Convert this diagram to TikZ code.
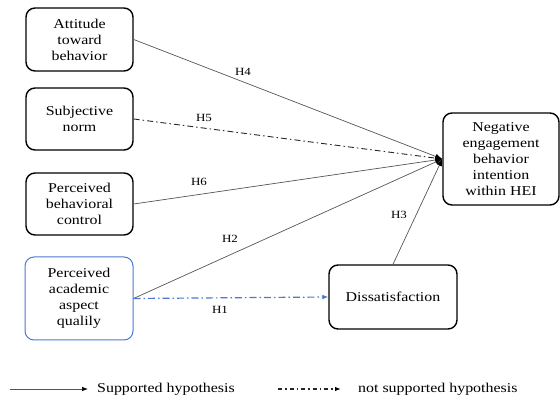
\documentclass[tikz,border=0pt]{standalone}
\usepackage{fontspec}
\setmainfont{Liberation Serif}[FakeStretch=1.18]
\usetikzlibrary{arrows.meta}
\definecolor{boxblue}{RGB}{75,120,210}
\definecolor{linegray}{RGB}{85,85,85}
\begin{document}
\begin{tikzpicture}[x=1pt,y=-1pt,
  box/.style={draw=black,line width=1.4pt,rounded corners=9pt,align=center,inner sep=0pt,
    font=\fontsize{13.5}{16}\selectfont,text=black},
  lbl/.style={font=\fontsize{11}{13}\selectfont,text=black,inner sep=0pt},
  legtext/.style={font=\fontsize{13.5}{16}\selectfont,text=black,anchor=west,inner sep=0pt},
  supline/.style={draw=linegray,line width=0.7pt,-{Latex[length=7pt,width=5.5pt,color=black]}},
  notsupline/.style={draw=black!85,line width=0.9pt,dash pattern=on 6pt off 3pt on 1.5pt off 3pt,-{Latex[length=7pt,width=5.5pt,color=black]}},
  blueline/.style={draw=boxblue,line width=1.2pt,dash pattern=on 7pt off 3pt on 1.5pt off 3pt,-{Latex[length=6pt,width=5pt]}}
]
\useasboundingbox (0,0) rectangle (560,403);

\node[box,minimum width=107pt,minimum height=63pt] (a1) at (79.5,39.5) {Attitude\\toward\\behavior};
\node[box,minimum width=107pt,minimum height=62pt] (a2) at (79.5,119) {Subjective\\norm};
\node[box,minimum width=107pt,minimum height=62pt] (a3) at (79.5,204) {Perceived\\behavioral\\control};
\node[box,draw=boxblue,line width=1pt,minimum width=108pt,minimum height=83pt] (a4) at (79,298.5) {Perceived\\academic\\aspect\\qualily};
\node[box,minimum width=116pt,minimum height=92pt] (tgt) at (501,159) {Negative\\engagement\\behavior\\intention\\within HEI};
\node[box,minimum width=128pt,minimum height=64pt] (dis) at (393,297) {Dissatisfaction};

\draw[supline] (a1.east) -- (tgt.west);
\draw[notsupline] (a2.east) -- (tgt.west);
\draw[supline] (a3.east) -- (tgt.west);
\draw[supline] (a4.east) -- (tgt.west);
\draw[supline] (dis.north) -- (tgt.west);
\draw[blueline] (a4.east) -- (dis.west);

\node[lbl] (h4) at (243,72) {H4};
\node[lbl] (h5) at (204,118) {H5};
\node[lbl] (h6) at (199,182) {H6};
\node[lbl] (h3) at (399,215) {H3};
\node[lbl] (h2) at (230,239) {H2};
\node[lbl] (h1) at (220,310) {H1};

\coordinate (l1s) at (10,389);
\coordinate (l1e) at (88,389);
\coordinate (l2s) at (278,389);
\coordinate (l2e) at (341,389);
\draw[draw=linegray,line width=0.7pt,-{Latex[length=6pt,width=4.5pt,color=black]}] (l1s) -- (l1e);
\draw[draw=black!85,line width=1.1pt,dash pattern=on 4pt off 3pt on 1.5pt off 3pt,-{Latex[length=6pt,width=4.5pt,color=black]}] (l2s) -- (l2e);
\node[legtext] (t1) at (97,389) {Supported hypothesis};
\node[legtext] (t2) at (358,389) {not supported hypothesis};
\end{tikzpicture}
\end{document}
